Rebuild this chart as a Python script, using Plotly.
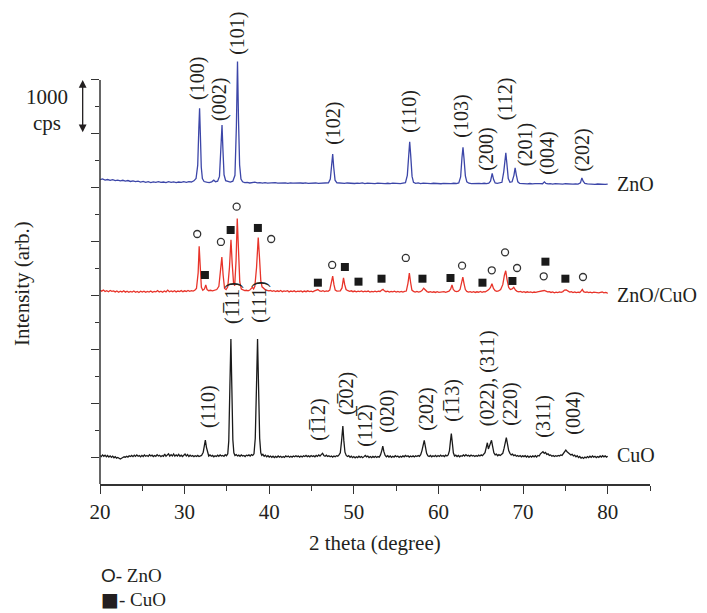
import plotly.graph_objects as go

# ---------------- data ----------------
# relative intensity (cps) vs 2theta (deg); each pattern is stacked by an offset
zno_pattern = [
    (20.0,150),(20.3,162),(20.6,141),(20.9,152),(21.2,136),(21.5,148),(21.8,131),(22.1,142),(22.4,126),(22.7,138),
    (23.0,122),(23.3,133),(23.6,116),(23.9,127),(24.2,112),(24.5,122),(24.8,106),(25.1,119),(25.4,101),(25.7,112),
    (26.0,96),(26.3,109),(26.6,101),(26.9,113),(27.2,98),(27.5,106),(27.8,95),(28.1,111),(28.4,100),(28.7,108),
    (29.0,95),(29.3,106),(29.6,98),(29.9,111),(30.2,100),(30.5,113),(30.8,106),(31.1,128),(31.35,170),(31.55,420),
    (31.68,1100),(31.77,1475),(31.86,1000),(31.97,380),(32.1,170),(32.3,115),(32.6,102),(32.9,96),(33.2,110),(33.45,140),
    (33.65,112),(33.9,122),(34.12,210),(34.3,760),(34.42,1164),(34.53,700),(34.66,240),(34.85,130),(35.1,112),(35.4,104),
    (35.7,122),(35.95,230),(36.12,1150),(36.25,2343),(36.37,1250),(36.5,420),(36.66,160),(36.85,110),(37.1,96),(37.4,100),
    (37.7,88),(38.0,94),(38.3,104),(38.6,90),(38.9,96),(39.2,86),(39.5,93),(39.8,85),(40.1,92),(40.4,88),
    (40.7,96),(41.0,86),(41.3,92),(41.6,84),(41.9,90),(42.2,82),(42.5,91),(42.8,85),(43.1,89),(43.4,80),
    (43.7,88),(44.0,83),(44.3,90),(44.6,81),(44.9,87),(45.2,80),(45.5,88),(45.8,82),(46.1,87),(46.4,79),
    (46.7,86),(47.0,92),(47.22,160),(47.38,420),(47.5,624),(47.62,380),(47.78,140),(48.0,92),(48.3,84),(48.6,90),
    (48.9,80),(49.2,88),(49.5,82),(49.8,89),(50.1,78),(50.4,86),(50.7,80),(51.0,88),(51.3,77),(51.6,85),
    (51.9,79),(52.2,87),(52.5,76),(52.8,84),(53.1,78),(53.4,86),(53.7,77),(54.0,83),(54.3,75),(54.6,84),
    (54.9,78),(55.2,85),(55.5,76),(55.8,84),(56.1,92),(56.32,230),(56.48,620),(56.6,853),(56.72,600),(56.88,210),
    (57.05,100),(57.3,82),(57.6,88),(57.9,76),(58.2,84),(58.5,78),(58.8,86),(59.1,75),(59.4,83),(59.7,77),
    (60.0,85),(60.3,74),(60.6,82),(60.9,76),(61.2,84),(61.5,75),(61.8,83),(62.1,78),(62.4,90),(62.62,200),
    (62.78,560),(62.9,749),(63.02,540),(63.18,220),(63.35,110),(63.6,84),(63.9,76),(64.2,82),(64.5,74),(64.8,81),
    (65.1,75),(65.4,83),(65.7,76),(65.95,84),(66.15,120),(66.35,264),(66.52,150),(66.7,88),(66.95,80),(67.25,86),
    (67.5,100),(67.72,300),(67.86,560),(67.96,648),(68.08,460),(68.25,170),(68.45,100),(68.7,110),(68.92,230),(69.06,369),
    (69.2,240),(69.38,110),(69.6,80),(69.9,74),(70.2,80),(70.5,72),(70.8,78),(71.1,70),(71.4,77),(71.7,71),
    (72.0,76),(72.3,74),(72.52,108),(72.7,80),(72.95,70),(73.2,76),(73.5,68),(73.8,75),(74.1,69),(74.4,76),
    (74.7,68),(75.0,74),(75.3,67),(75.6,73),(75.9,66),(76.2,72),(76.5,66),(76.78,90),(76.95,182),(77.1,120),
    (77.3,80),(77.6,70),(77.9,64),(78.2,70),(78.5,63),(78.8,69),(79.1,62),(79.4,68),(79.7,61),(80.0,66),
]

zno_cuo_pattern = [
    (20.0,95),(20.2,80),(20.4,100),(20.6,72),(20.8,88),(21.0,70),(21.2,92),(21.4,75),(21.6,85),(21.8,66),
    (22.0,82),(22.2,60),(22.4,78),(22.6,65),(22.8,86),(23.0,62),(23.2,80),(23.4,58),(23.6,76),(23.8,64),
    (24.0,82),(24.2,60),(24.4,74),(24.6,56),(24.8,78),(25.0,62),(25.2,80),(25.4,58),(25.6,74),(25.8,63),
    (26.0,84),(26.2,60),(26.4,76),(26.6,66),(26.8,90),(27.0,64),(27.2,78),(27.4,60),(27.6,82),(27.8,66),
    (28.0,100),(28.2,68),(28.4,84),(28.6,70),(28.8,88),(29.0,66),(29.2,82),(29.4,72),(29.6,90),(29.8,70),
    (30.0,86),(30.2,74),(30.4,92),(30.6,76),(30.8,88),(31.0,80),(31.2,96),(31.4,130),(31.6,420),(31.72,911),
    (31.84,560),(31.98,150),(32.15,95),(32.35,120),(32.5,197),(32.65,110),(32.85,88),(33.05,96),(33.3,84),(33.55,92),
    (33.8,110),(34.05,170),(34.25,450),(34.4,711),(34.55,380),(34.72,130),(34.9,110),(35.1,160),(35.3,520),(35.48,1035),
    (35.62,600),(35.78,240),(35.92,180),(36.08,650),(36.22,1426),(36.36,800),(36.52,250),(36.7,120),(36.9,100),(37.1,90),
    (37.3,96),(37.5,86),(37.7,100),(37.85,125),(38.0,153),(38.15,120),(38.3,170),(38.5,520),(38.7,1073),(38.85,700),
    (39.0,280),(39.15,160),(39.35,130),(39.55,105),(39.75,96),(39.95,84),(40.15,92),(40.35,76),(40.55,88),(40.75,72),
    (40.95,86),(41.15,74),(41.35,92),(41.55,70),(41.75,84),(41.95,76),(42.15,88),(42.35,66),(42.55,82),(42.75,72),
    (42.95,86),(43.15,68),(43.35,80),(43.55,74),(43.75,84),(43.95,66),(44.15,82),(44.35,70),(44.55,86),(44.75,72),
    (44.95,80),(45.15,68),(45.35,84),(45.55,96),(45.75,110),(45.95,84),(46.15,76),(46.35,88),(46.55,72),(46.75,84),
    (46.95,76),(47.15,100),(47.35,230),(47.5,358),(47.65,200),(47.8,100),(48.0,82),(48.2,90),(48.4,86),(48.6,140),
    (48.78,328),(48.92,200),(49.08,110),(49.3,88),(49.5,76),(49.7,86),(49.9,70),(50.1,82),(50.3,68),(50.5,80),
    (50.7,72),(50.9,84),(51.1,66),(51.3,78),(51.5,70),(51.7,82),(51.9,64),(52.1,76),(52.3,68),(52.5,80),
    (52.7,66),(52.9,78),(53.1,74),(53.3,100),(53.45,112),(53.6,86),(53.8,70),(54.0,80),(54.2,64),(54.4,76),
    (54.6,66),(54.8,78),(55.0,62),(55.2,74),(55.4,64),(55.6,76),(55.8,62),(56.0,74),(56.2,82),(56.4,230),
    (56.56,413),(56.7,250),(56.86,100),(57.05,76),(57.25,64),(57.45,74),(57.65,62),(57.85,70),(58.05,90),(58.25,134),
    (58.45,100),(58.65,72),(58.85,60),(59.05,70),(59.25,58),(59.45,68),(59.65,56),(59.85,70),(60.05,58),(60.25,66),
    (60.45,60),(60.65,72),(60.85,58),(61.05,68),(61.25,80),(61.45,120),(61.6,197),(61.75,110),(61.95,80),(62.15,70),
    (62.35,78),(62.55,110),(62.72,250),(62.88,339),(63.02,220),(63.18,110),(63.35,76),(63.55,64),(63.75,72),(63.95,58),
    (64.15,70),(64.35,56),(64.55,68),(64.75,60),(64.95,74),(65.15,58),(65.35,72),(65.55,66),(65.75,88),(65.95,110),
    (66.15,150),(66.32,216),(66.5,130),(66.7,90),(66.9,76),(67.1,84),(67.35,110),(67.6,200),(67.8,380),(67.95,458),
    (68.1,300),(68.3,150),(68.5,110),(68.7,120),(68.9,153),(69.1,100),(69.3,76),(69.5,66),(69.7,74),(69.9,58),
    (70.1,70),(70.3,56),(70.5,68),(70.7,58),(70.9,66),(71.1,54),(71.3,64),(71.5,56),(71.7,68),(71.9,74),
    (72.1,86),(72.3,98),(72.5,92),(72.7,80),(72.9,66),(73.1,72),(73.3,56),(73.5,66),(73.7,48),(73.9,62),
    (74.1,54),(74.3,66),(74.5,58),(74.7,72),(74.9,100),(75.1,104),(75.3,80),(75.5,62),(75.7,68),(75.9,52),
    (76.1,64),(76.3,54),(76.5,62),(76.7,56),(76.85,80),(77.0,112),(77.15,70),(77.35,58),(77.55,64),(77.75,52),
    (77.95,62),(78.15,50),(78.35,60),(78.55,54),(78.75,62),(78.95,48),(79.15,58),(79.35,64),(79.55,50),(79.75,58),
    (79.95,46),(80.0,52),
]

cuo_pattern = [
    (20.0,30),(20.15,10),(20.3,40),(20.45,15),(20.6,35),(20.75,5),(20.9,28),(21.05,0),(21.2,22),(21.35,-5),
    (21.5,18),(21.65,-12),(21.8,8),(21.95,-20),(22.1,-8),(22.25,-30),(22.4,-35),(22.55,-22),(22.7,-10),(22.85,5),
    (23.0,-5),(23.15,15),(23.3,0),(23.45,25),(23.6,10),(23.75,30),(23.9,8),(24.05,35),(24.2,12),(24.35,40),
    (24.5,15),(24.65,28),(24.8,5),(24.95,32),(25.1,10),(25.25,38),(25.4,15),(25.55,30),(25.7,12),(25.85,42),
    (26.0,20),(26.15,35),(26.3,10),(26.45,30),(26.6,15),(26.75,45),(26.9,20),(27.05,32),(27.2,8),(27.35,28),
    (27.5,12),(27.65,55),(27.8,15),(27.95,40),(28.1,60),(28.25,18),(28.4,45),(28.55,20),(28.7,58),(28.85,15),
    (29.0,40),(29.15,20),(29.3,50),(29.45,15),(29.6,35),(29.75,10),(29.9,30),(30.05,55),(30.2,20),(30.35,45),
    (30.5,10),(30.65,35),(30.8,15),(30.95,30),(31.1,8),(31.25,25),(31.4,12),(31.55,30),(31.7,10),(31.85,20),
    (32.0,30),(32.2,90),(32.35,200),(32.45,317),(32.58,180),(32.72,60),(32.85,20),(33.0,40),(33.15,15),(33.3,30),
    (33.45,5),(33.6,25),(33.75,10),(33.9,35),(34.05,15),(34.2,40),(34.35,20),(34.5,30),(34.65,12),(34.8,45),
    (34.95,25),(35.1,60),(35.22,300),(35.35,1300),(35.47,2192),(35.58,1300),(35.7,320),(35.82,80),(35.95,30),(36.1,45),
    (36.25,20),(36.4,35),(36.55,15),(36.7,40),(36.85,20),(37.0,30),(37.15,10),(37.3,35),(37.45,25),(37.6,40),
    (37.75,20),(37.9,45),(38.05,30),(38.2,60),(38.35,350),(38.5,1350),(38.62,2192),(38.74,1300),(38.87,350),(39.0,80),
    (39.12,30),(39.25,50),(39.4,15),(39.55,35),(39.7,5),(39.85,25),(40.0,0),(40.15,18),(40.3,-5),(40.45,15),
    (40.6,-10),(40.75,12),(40.9,-5),(41.05,20),(41.2,0),(41.35,15),(41.5,-8),(41.65,10),(41.8,-5),(41.95,22),
    (42.1,5),(42.25,18),(42.4,-2),(42.55,15),(42.7,0),(42.85,20),(43.0,5),(43.15,25),(43.3,8),(43.45,20),
    (43.6,0),(43.75,18),(43.9,2),(44.05,25),(44.2,10),(44.35,30),(44.5,8),(44.65,22),(44.8,5),(44.95,28),
    (45.1,10),(45.25,22),(45.4,5),(45.55,30),(45.7,12),(45.85,40),(46.0,20),(46.15,45),(46.3,70),(46.45,30),
    (46.6,15),(46.75,35),(46.9,10),(47.05,25),(47.2,5),(47.35,20),(47.5,0),(47.65,18),(47.8,5),(47.95,25),
    (48.1,15),(48.25,40),(48.4,80),(48.55,300),(48.7,577),(48.82,300),(48.95,90),(49.1,30),(49.25,10),(49.4,25),
    (49.55,-5),(49.7,15),(49.85,-10),(50.0,10),(50.15,-15),(50.3,5),(50.45,-10),(50.6,15),(50.75,-5),(50.9,10),
    (51.05,-12),(51.2,8),(51.35,30),(51.5,5),(51.65,20),(51.8,-8),(51.95,10),(52.1,-10),(52.25,12),(52.4,-5),
    (52.55,15),(52.7,-8),(52.85,10),(53.0,0),(53.15,40),(53.3,120),(53.42,205),(53.55,100),(53.7,30),(53.85,5),
    (54.0,25),(54.15,0),(54.3,20),(54.45,-5),(54.6,15),(54.75,0),(54.9,25),(55.05,5),(55.2,20),(55.35,-5),
    (55.5,15),(55.65,0),(55.8,22),(55.95,5),(56.1,30),(56.25,10),(56.4,25),(56.55,0),(56.7,18),(56.85,5),
    (57.0,22),(57.15,2),(57.3,25),(57.45,10),(57.6,30),(57.75,15),(57.9,45),(58.05,120),(58.2,250),(58.32,311),
    (58.45,200),(58.6,70),(58.75,25),(58.9,10),(59.05,30),(59.2,5),(59.35,25),(59.5,10),(59.65,30),(59.8,8),
    (59.95,28),(60.1,12),(60.25,35),(60.4,15),(60.55,30),(60.7,10),(60.85,35),(61.0,20),(61.15,40),(61.3,120),
    (61.42,300),(61.52,434),(61.63,280),(61.76,80),(61.9,20),(62.05,35),(62.2,10),(62.35,30),(62.5,5),(62.65,25),
    (62.8,15),(62.95,40),(63.1,20),(63.25,45),(63.4,22),(63.55,35),(63.7,15),(63.85,38),(64.0,20),(64.15,30),
    (64.3,10),(64.45,28),(64.6,15),(64.75,35),(64.9,20),(65.05,40),(65.2,25),(65.35,45),(65.5,80),(65.65,180),
    (65.78,266),(65.9,150),(66.02,200),(66.15,290),(66.27,311),(66.4,200),(66.55,80),(66.7,40),(66.85,55),(67.0,25),
    (67.15,45),(67.3,30),(67.45,50),(67.6,70),(67.75,160),(67.9,300),(68.02,359),(68.15,250),(68.3,120),(68.45,70),
    (68.6,40),(68.75,55),(68.9,25),(69.05,40),(69.2,15),(69.35,30),(69.5,10),(69.65,28),(69.8,5),(69.95,22),
    (70.1,8),(70.25,25),(70.4,0),(70.55,20),(70.7,-5),(70.85,18),(71.0,0),(71.15,22),(71.3,5),(71.45,25),
    (71.6,0),(71.75,30),(71.9,20),(72.05,60),(72.2,80),(72.35,100),(72.5,70),(72.65,85),(72.8,50),(72.95,60),
    (73.1,30),(73.25,40),(73.4,15),(73.55,30),(73.7,10),(73.85,25),(74.0,15),(74.15,30),(74.3,20),(74.45,40),
    (74.6,30),(74.75,60),(74.9,110),(75.05,130),(75.2,100),(75.35,80),(75.5,70),(75.65,40),(75.8,50),(75.95,20),
    (76.1,35),(76.25,5),(76.4,25),(76.55,-10),(76.7,10),(76.85,-20),(77.0,-5),(77.15,-25),(77.3,0),(77.45,-15),
    (77.6,10),(77.75,-10),(77.9,15),(78.05,-5),(78.2,20),(78.35,0),(78.5,15),(78.65,-10),(78.8,10),(78.95,-5),
    (79.1,20),(79.25,0),(79.4,25),(79.55,5),(79.7,22),(79.85,0),(80.0,15),
]

series_names = ["ZnO", "ZnO/CuO", "CuO"]
stack_offsets = [5000, 3000, 0]
series_colors = ["#3c46a8", "#e8342a", "#1a1a1a"]

# phase markers above the ZnO/CuO pattern (2theta, relative cps)
zno_marker_2theta = [31.49, 34.29, 36.15, 40.23, 47.44, 56.14, 62.79, 66.30, 67.87, 69.29, 72.44, 77.08]
zno_marker_counts = [1141, 993, 1648, 1048, 566, 696, 553, 467, 801, 510, 356, 343]
cuo_marker_2theta = [32.40, 35.44, 38.66, 45.75, 48.94, 50.55, 53.27, 58.11, 61.42, 65.20, 68.74, 72.64, 75.00]
cuo_marker_counts = [380, 1215, 1253, 237, 528, 256, 311, 311, 324, 237, 269, 627, 311]

# Miller-index labels
zno_hkl = ["(100)", "(002)", "(101)", "(102)", "(110)", "(103)", "(200)", "(112)", "(201)", "(004)", "(202)"]
cuo_hkl = ["(110)", "(1\u030511)", "(111)", "(1\u030512)", "(2\u030502)", "(112\u0305)", "(020)", "(202)",
           "(1\u030513)", "(022), (311)", "(220)", "(311)", "(004)"]

x_tick_values = [20, 30, 40, 50, 60, 70, 80]
y_major_ticks = [0, 1000, 2000, 3000, 4000, 5000, 6000, 7000]
y_minor_ticks = [500, 1500, 2500, 3500, 4500, 5500, 6500]

# ---------------- layout positions of the labels ----------------
zno_hkl_pos = [(31.57, 7037), (34.17, 6647), (36.30, 7873), (47.64, 6202), (56.61, 6425), (62.75, 6332),
               (65.71, 5719), (67.95, 6657), (70.31, 5803), (72.91, 5645), (77.04, 5701)]
cuo_hkl_pos = [(32.79, 935), (35.59, 2860), (38.90, 2880), (45.90, 694), (49.05, 1184), (51.30, 595),
               (54.05, 842), (58.50, 892), (61.69, 1060), (65.82, 1459), (68.42, 985), (72.32, 762), (75.86, 818)]
series_label_y = [5069, 3009, 38]

SERIF = "Liberation Serif"
TXT = "#231f20"
AX = "#333333"

fig = go.Figure()

for pattern, off, col, name in zip([zno_pattern, zno_cuo_pattern, cuo_pattern], stack_offsets, series_colors, series_names):
    xs = [p[0] for p in pattern]
    ys = [p[1] + off for p in pattern]
    fig.add_trace(go.Scatter(x=xs, y=ys, mode="lines", line=dict(color=col, width=1.3),
                             name=name, showlegend=False, hoverinfo="x+y"))

fig.add_trace(go.Scatter(x=zno_marker_2theta, y=[v + stack_offsets[1] for v in zno_marker_counts],
                         mode="markers", showlegend=False, name="ZnO",
                         marker=dict(symbol="circle-open", size=7, color="#333333", line=dict(width=1.3))))
fig.add_trace(go.Scatter(x=cuo_marker_2theta, y=[v + stack_offsets[1] for v in cuo_marker_counts],
                         mode="markers", showlegend=False, name="CuO",
                         marker=dict(symbol="square", size=8, color="#1a1a1a")))

ann = []
for t, (x, y) in zip(zno_hkl, zno_hkl_pos):
    ann.append(dict(x=x, y=y, xref="x", yref="y", text=t, textangle=-90, showarrow=False,
                    xanchor="center", yanchor="middle", font=dict(family=SERIF, size=20, color=TXT)))
for t, (x, y) in zip(cuo_hkl, cuo_hkl_pos):
    ann.append(dict(x=x, y=y, xref="x", yref="y", text=t, textangle=-90, showarrow=False,
                    xanchor="center", yanchor="middle", font=dict(family=SERIF, size=20, color=TXT)))
for name, y in zip(series_names, series_label_y):
    ann.append(dict(x=81.0, y=y, xref="x", yref="y", text=name, showarrow=False, borderpad=0,
                    xanchor="left", yanchor="middle", font=dict(family=SERIF, size=20, color=TXT)))

# 1000 cps scale bar
ann.append(dict(x=-0.0315, y=7000, xref="paper", yref="y", ax=0, ay=6000, axref="pixel", ayref="y",
                text="", showarrow=True, arrowhead=2, arrowside="end+start", arrowsize=1.2,
                arrowwidth=1.3, arrowcolor=TXT))
ann.append(dict(x=-0.0969, y=0.8457, xref="paper", yref="paper", text="1000", showarrow=False,
                xanchor="center", yanchor="middle", font=dict(family=SERIF, size=21, color=TXT)))
ann.append(dict(x=-0.0969, y=0.7876, xref="paper", yref="paper", text="cps", showarrow=False,
                xanchor="center", yanchor="middle", font=dict(family=SERIF, size=21, color=TXT)))

# axis titles
ann.append(dict(x=-0.1418, y=0.4367, xref="paper", yref="paper", text="Intensity (arb.)", textangle=-90,
                showarrow=False, xanchor="center", yanchor="middle", font=dict(family=SERIF, size=21, color=TXT)))
ann.append(dict(x=0.5, y=-0.1288, xref="paper", yref="paper", text="2 theta (degree)",
                showarrow=False, xanchor="center", yanchor="middle", font=dict(family=SERIF, size=21, color=TXT)))

# phase key
ann.append(dict(x=-0.002, y=-0.199, xref="paper", yref="paper",
                text="<span style='font-family:Liberation Sans'>O</span>- ZnO",
                showarrow=False, xanchor="left", yanchor="middle", font=dict(family=SERIF, size=19, color=TXT)))
ann.append(dict(x=-0.002, y=-0.252, xref="paper", yref="paper",
                text="<span style='font-family:DejaVu Sans'>\u25A0</span>- CuO",
                showarrow=False, xanchor="left", yanchor="middle", font=dict(family=SERIF, size=19, color=TXT)))

# y axis line (stops at the top tick; peaks may rise above it)
shapes = [dict(type="line", xref="paper", yref="y", x0=0, x1=0, y0=-500, y1=7000,
               line=dict(color=AX, width=1.5))]

fig.update_layout(
    width=699, height=605,
    margin=dict(l=92, r=57, t=18, b=129),
    paper_bgcolor="white", plot_bgcolor="white",
    annotations=ann, shapes=shapes,
    xaxis=dict(range=[20, 85], tickvals=x_tick_values, ticktext=[str(v) for v in x_tick_values],
               ticks="outside", ticklen=8, tickwidth=1.3, tickcolor=AX,
               minor=dict(dtick=5, tick0=20, ticks="outside", ticklen=5, tickwidth=1.3, tickcolor=AX),
               showline=True, linecolor=AX, linewidth=1.5, showgrid=False, zeroline=False,
               tickfont=dict(family=SERIF, size=21, color=TXT)),
    yaxis=dict(range=[-500, 8002], tickvals=y_major_ticks, showticklabels=False,
               ticks="outside", ticklen=8, tickwidth=1.3, tickcolor=AX,
               minor=dict(tickvals=y_minor_ticks, ticks="outside", ticklen=4, tickwidth=1.3, tickcolor=AX),
               showline=False, showgrid=False, zeroline=False),
)

fig.write_html("out.html")
